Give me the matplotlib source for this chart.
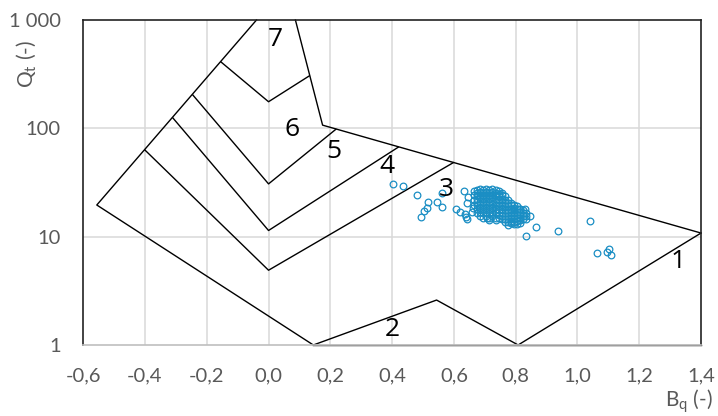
import numpy as np
import matplotlib
matplotlib.use("Agg")
import matplotlib.pyplot as plt
from matplotlib.ticker import FixedLocator, FixedFormatter

plt.rcParams["font.family"] = ["Lato", "DejaVu Sans"]
plt.rcParams["mathtext.fontset"] = "custom"
plt.rcParams["mathtext.rm"] = "Lato"

# --- zone boundaries (Bq, Qt) ---
outer_left_bq, outer_left_qt = [-0.039, -0.556, 0.145], [1000, 19.6, 1]
top_right_bq, top_right_qt = [0.087, 0.175, 1.4], [1000, 107, 10.8]
zone2_bq, zone2_qt = [0.145, 0.544, 0.808], [1, 2.6, 1]
zone1_bq, zone1_qt = [0.808, 1.4], [1, 10.8]
bottom_bq, bottom_qt = [0.145, 1.4], [1, 1]
b76_bq, b76_qt = [-0.154, 0.0, 0.132], [410, 176, 305]
b65_bq, b65_qt = [-0.245, 0.0, 0.218], [203, 30.7, 98]
b54_bq, b54_qt = [-0.310, 0.0, 0.420], [125, 11.4, 67]
b43_bq, b43_qt = [-0.400, 0.0, 0.598], [63, 4.9, 48.2]

zone_labels = ["7", "6", "5", "4", "3", "2", "1"]
zone_bq = [0.021, 0.077, 0.212, 0.383, 0.577, 0.40, 1.325]
zone_qt = [655, 96.7, 60.5, 44, 27, 1.38, 5.84]

# --- CPTu points ---
loose_bq = [0.404, 0.434, 0.482, 0.515, 0.512, 0.504, 0.493, 0.546, 0.562, 0.563,
            0.606, 0.619, 0.636, 0.640, 0.643, 0.632, 0.646, 0.644, 0.658, 0.662,
            0.833, 0.866, 0.937, 0.815, 0.829, 0.774, 0.706,
            1.040, 1.062, 1.102, 1.097, 1.110]
loose_qt = [30.5, 29.6, 24.3, 20.8, 18.3, 17.3, 15.1, 20.8, 18.9, 25.1,
            17.9, 16.8, 16.2, 15.3, 14.6, 26.6, 23.4, 20.6, 17.0, 18.3,
            10.2, 12.4, 11.3, 18.0, 18.0, 12.8, 14.8,
            14.1, 7.03, 7.7, 7.2, 6.78]
cluster_cols = [0.665, 0.675, 0.685, 0.695, 0.705, 0.715, 0.725, 0.735, 0.745, 0.755,
                0.765, 0.775, 0.785, 0.795, 0.805, 0.815, 0.825, 0.835, 0.845]
cluster_qt = [
    [26.5, 24, 22, 19.5],
    [27, 25.5, 24, 22.5, 21, 19.5, 18, 16.5],
    [27.5, 26, 24.5, 23, 21.5, 20, 18.5, 17, 15.5],
    [27, 25.5, 24, 22.5, 21, 19.5, 18, 16.5, 15],
    [27.5, 26, 24.5, 23, 21.5, 20, 18.5, 17, 15.5],
    [27, 25.5, 24, 22.5, 21, 19.5, 18, 16.5, 15, 14.2],
    [27.5, 26, 24.5, 23, 21.5, 20, 18.5, 17, 15.5],
    [27, 25.5, 24, 22.5, 21, 19.5, 18, 16.5, 15, 14.2],
    [26.5, 25, 23.5, 22, 20.5, 19, 17.5, 16, 15],
    [25.5, 24, 22.5, 21, 19.5, 18, 16.5, 15.5, 14.5],
    [23.5, 22, 20.5, 19, 17.5, 16.5, 15.5, 14.5, 13.8],
    [22, 20.5, 19, 17.5, 16.5, 15.5, 14.5, 13.6],
    [20.5, 19.5, 18, 17, 16, 15, 14, 13.4],
    [19.5, 18.5, 17.5, 16.5, 15.5, 14.5, 13.6, 13.0],
    [19, 18, 17, 16, 15, 14, 13.2],
    [18, 17, 16, 15, 14.2, 13.5],
    [17.5, 16.5, 15.5, 14.5],
    [16.5, 15.5, 14.5],
    [15.5],
]

x_ticks = [-0.6, -0.4, -0.2, 0.0, 0.2, 0.4, 0.6, 0.8, 1.0, 1.2, 1.4]
x_labels = ["-0,6", "-0,4", "-0,2", "0,0", "0,2", "0,4", "0,6", "0,8", "1,0", "1,2", "1,4"]
y_ticks = [1, 10, 100, 1000]
y_labels = ["1", "10", "100", "1 000"]

pts_bq = loose_bq + [b for b, col in zip(cluster_cols, cluster_qt) for _ in col]
pts_qt = loose_qt + [q for col in cluster_qt for q in col]

fig = plt.figure(figsize=(7.18, 4.16), dpi=100)
ax = fig.add_axes([83.2 / 718, 1 - 345 / 416, (701 - 83.2) / 718, (345 - 20) / 416])
ax.set_yscale("log")
ax.set_xlim(-0.6, 1.4)
ax.set_ylim(1, 1000)

grid_c = "#d9d9d9"
for x in x_ticks[1:-1]:
    ax.axvline(x, color=grid_c, lw=1.1, zorder=0)
for y in [10, 100]:
    ax.axhline(y, color=grid_c, lw=1.1, zorder=0)

line_kw = dict(color="black", lw=1.0, zorder=2)
for bx, by in [(outer_left_bq, outer_left_qt), (top_right_bq, top_right_qt),
               (zone2_bq, zone2_qt), (zone1_bq, zone1_qt), (bottom_bq, bottom_qt),
               (b76_bq, b76_qt), (b65_bq, b65_qt), (b54_bq, b54_qt), (b43_bq, b43_qt)]:
    ax.plot(bx, by, clip_on=False, **line_kw)

ax.plot(pts_bq, pts_qt, "o", ms=4.8, mfc="none", mec="#1a8ec4", mew=0.9, zorder=3)

for lab, x, y in zip(zone_labels, zone_bq, zone_qt):
    ax.text(x, y, lab, fontsize=19, color="black", ha="center", va="center",
            family=["Open Sans", "DejaVu Sans"], zorder=4)

for side in ["left", "top", "right"]:
    ax.spines[side].set_color("#222222")
    ax.spines[side].set_linewidth(1.2)
ax.spines["bottom"].set_color("#bfbfbf")
ax.spines["bottom"].set_linewidth(1.2)

ax.xaxis.set_major_locator(FixedLocator(x_ticks))
ax.xaxis.set_major_formatter(FixedFormatter(x_labels))
ax.yaxis.set_major_locator(FixedLocator(y_ticks))
ax.yaxis.set_major_formatter(FixedFormatter(y_labels))
ax.yaxis.set_minor_locator(FixedLocator([]))
ax.tick_params(length=0, labelsize=14.5, labelcolor="#595959")
ax.tick_params(axis="x", pad=16)
ax.tick_params(axis="y", pad=16)

fig.text(27 / 718, 1 - 64 / 416, r"Q$_\mathrm{t}$ (-)", rotation=90, ha="center", va="center",
         fontsize=15, color="#595959")
fig.text(713 / 718, 1 - 401 / 416, r"B$_\mathrm{q}$ (-)", ha="right", va="center",
         fontsize=15, color="#595959")

fig.savefig("out.png", dpi=100)
